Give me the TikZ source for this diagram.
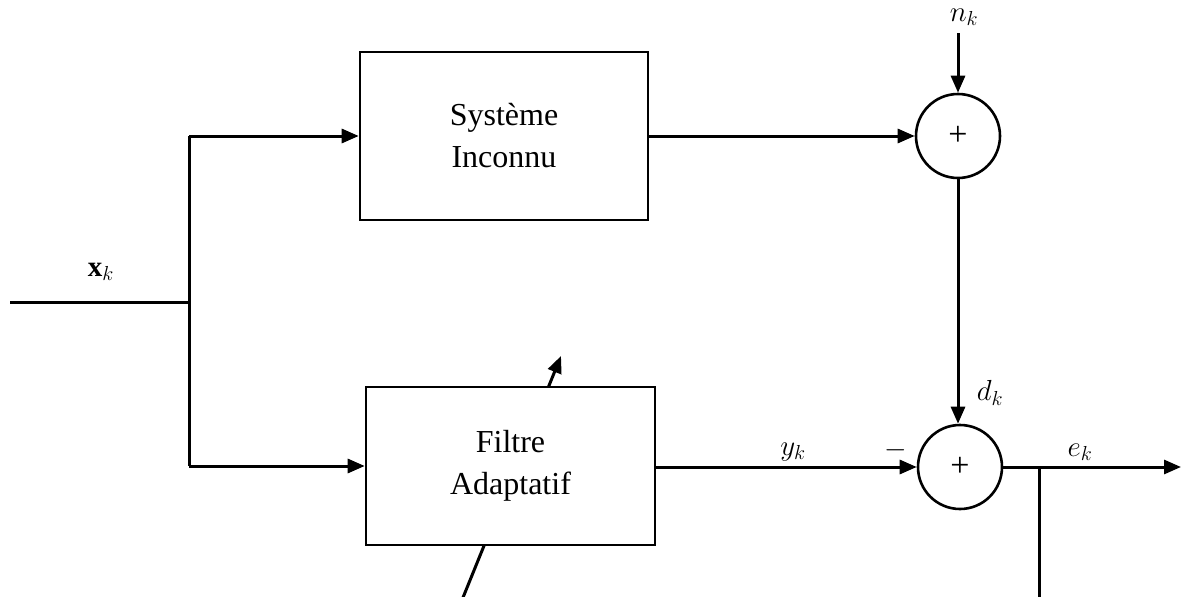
\RequirePackage{fix-cm}
\documentclass[tikz,border=0pt]{standalone}
\usepackage{fontspec}
\setmainfont{Liberation Serif}
\usetikzlibrary{arrows.meta}
\begin{document}
\begin{tikzpicture}[x=1pt,y=-1pt,
  wire/.style={line width=3pt},
  arr/.style={wire,-{Triangle[length=17pt,width=14pt]}},
  block/.style={draw,line width=2.6pt,fill=white,minimum width=288pt,
    align=center,font=\fontsize{32}{42}\selectfont,inner sep=0pt},
  summer/.style={draw,circle,line width=2.6pt,minimum size=84pt,inner sep=0pt,
    font=\fontsize{34}{36}\selectfont},
  lbl/.style={font=\fontsize{29}{32}\selectfont,inner sep=0pt}]
\useasboundingbox (0,0) rectangle (1181,597);

% adaptation arrow crossing the adaptive filter (hidden behind the block)
\coordinate (adIn) at (462,600);
\coordinate (adOut) at (561,356);
\draw[arr] (adIn) -- (adOut);

% blocks
\node[block,minimum height=168pt] (sys) at (504,136) {Système\\Inconnu};
\node[block,minimum height=158pt,minimum width=289pt] (filt) at (510.5,466) {Filtre\\Adaptatif};

% summing junctions
\node[summer] (s1) at (958,136) {+};
\node[summer] (s2) at (960,467) {+};

% input and branching
\coordinate (in) at (10,302);
\coordinate (br) at (189,302);
\coordinate (brT) at (189,136);
\coordinate (brB) at (189,466);
\draw[wire] (in) -- (br);
\draw[wire] (brT) -- (brB);
\draw[arr] (brT) -- (sys.west);
\draw[arr] (brB) -- (filt.west);
\node[lbl] (xk) at (101,272) {$\mathbf{x}_k$};

% plant output, noise, desired signal
\draw[arr] (sys.east) -- (s1.west);
\coordinate (nTop) at (958,33);
\draw[arr] (nTop) -- (s1.north);
\node[lbl] (nk) at (964,17) {$n_k$};
\draw[arr] (s1.south) -- (s1.south |- s2.north);
\node[lbl] (dk) at (990,393) {$d_k$};

% filter output
\draw[arr] (filt.east |- s2.west) -- (s2.west);
\node[lbl] (yk) at (793,452) {$y_k$};
\node[lbl] (minus) at (896,450) {$-$};

% error output and feedback tap
\coordinate (out) at (1181,467);
\draw[arr] (s2.east) -- (out);
\node[lbl] (ek) at (1080,452) {$e_k$};
\coordinate (tap) at (1039,467);
\coordinate (tapDown) at (1039,600);
\draw[wire] (tap) -- (tapDown);
\end{tikzpicture}
\end{document}
